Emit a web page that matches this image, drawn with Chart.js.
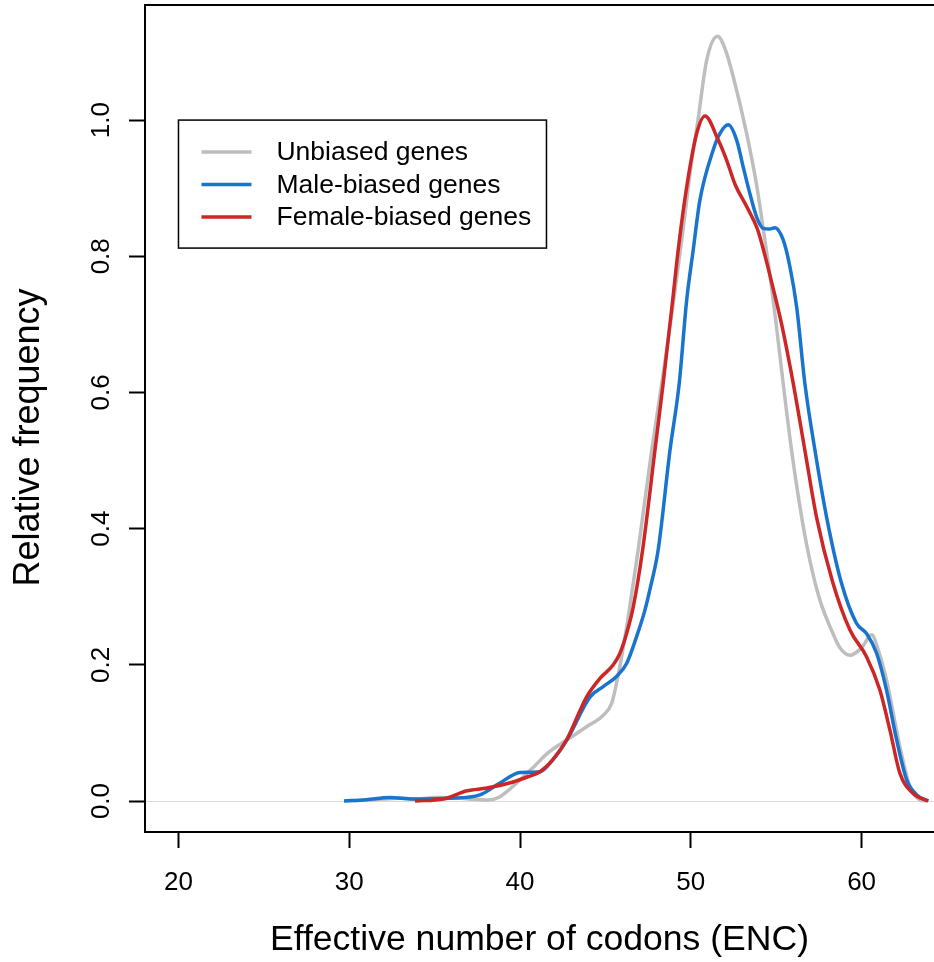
<!DOCTYPE html>
<html>
<head>
<meta charset="utf-8">
<script src="https://cdn.jsdelivr.net/npm/chart.js@4.4.1/dist/chart.umd.min.js"></script>
<style>
  body { margin: 0; background: #fff; }
</style>
</head>
<body>
<canvas id="enc-chart" width="934" height="962"></canvas>
<script>
// axis ticks
const xTicks = [20, 30, 40, 50, 60];
const yTicks = [0, 0.2, 0.4, 0.6, 0.8, 1.0];

const seriesNames = ['Unbiased genes', 'Male-biased genes', 'Female-biased genes'];

// Unbiased genes
const unbiasedX = [29.8, 31.5, 33.0, 34.0, 35.0, 35.9, 37.0, 38.1, 38.8, 40.0, 40.8, 41.6, 42.75, 43.9, 44.87, 45.36, 45.65, 45.95, 46.34, 46.92, 47.71, 48.4, 49.0, 49.5, 50.0, 50.42, 50.93, 51.57, 52.0, 52.48, 53.27, 53.85, 54.3, 54.7, 55.0, 55.41, 55.9, 56.49, 57.0, 57.56, 58.34, 58.73, 59.32, 60.0, 60.59, 61.0, 61.46, 62.24, 62.83, 63.4, 63.8];
const unbiasedY = [0, 0.002, 0.004, 0.003, 0.005, 0.005, 0.003, 0.0015, 0.006, 0.031, 0.05, 0.07, 0.09, 0.109, 0.126, 0.143, 0.173, 0.212, 0.271, 0.369, 0.515, 0.63, 0.736, 0.83, 0.93, 1.0, 1.088, 1.123, 1.105, 1.064, 0.98, 0.905, 0.83, 0.76, 0.70, 0.613, 0.515, 0.417, 0.35, 0.295, 0.245, 0.225, 0.214, 0.225, 0.244, 0.22, 0.178, 0.08, 0.021, 0.002, 0];

// Male-biased genes
const maleX = [29.69, 31.0, 32.38, 33.73, 35.9, 37.65, 38.8, 40.0, 41.17, 41.9, 42.75, 44.1, 44.87, 45.65, 46.24, 46.82, 47.31, 47.6, 48.09, 48.78, 49.32, 49.76, 50.14, 50.53, 51.31, 51.7, 52.19, 52.68, 53.07, 53.46, 53.85, 54.24, 54.6, 54.93, 55.41, 55.8, 56.2, 56.68, 57.27, 57.95, 58.8, 59.7, 60.29, 60.88, 61.46, 62.05, 62.64, 63.23, 63.9];
const maleY = [0, 0.002, 0.005, 0.003, 0.004, 0.009, 0.026, 0.042, 0.043, 0.06, 0.09, 0.153, 0.168, 0.183, 0.202, 0.241, 0.28, 0.31, 0.369, 0.515, 0.613, 0.736, 0.809, 0.882, 0.956, 0.98, 0.993, 0.971, 0.931, 0.892, 0.858, 0.841, 0.840, 0.842, 0.824, 0.785, 0.725, 0.613, 0.515, 0.417, 0.322, 0.261, 0.246, 0.217, 0.163, 0.09, 0.031, 0.009, 0];

// Female-biased genes
const femaleX = [33.85, 35.5, 36.9, 38.06, 39.6, 40.5, 41.17, 41.9, 42.73, 43.9, 44.68, 45.46, 45.85, 46.24, 46.63, 47.18, 47.9, 48.38, 48.94, 49.26, 49.76, 50.34, 50.83, 51.6, 52.1, 52.6, 53.27, 53.9, 54.3, 54.8, 55.32, 56.0, 56.68, 57.36, 58.3, 59.32, 60.29, 61.07, 61.66, 62.24, 63.02, 63.9];
const femaleY = [0, 0.003, 0.015, 0.019, 0.028, 0.036, 0.043, 0.06, 0.09, 0.153, 0.18, 0.2, 0.217, 0.246, 0.285, 0.369, 0.515, 0.613, 0.736, 0.809, 0.902, 0.98, 1.006, 0.971, 0.941, 0.905, 0.873, 0.84, 0.805, 0.755, 0.70, 0.613, 0.515, 0.417, 0.322, 0.251, 0.212, 0.163, 0.104, 0.041, 0.011, 0];

const FONT = "'Liberation Sans', Arial, Helvetica, sans-serif";

function toPoints(xs, ys) {
  return xs.map((x, i) => ({ x: x, y: ys[i] }));
}

// box top edge, rotated y labels, y title and the legend (R style)
const rStyle = {
  id: 'rStyle',
  afterDraw(chart) {
    const ctx = chart.ctx;
    const area = chart.chartArea;
    const xs = chart.scales.x;
    const ys = chart.scales.y;

    ctx.save();
    ctx.strokeStyle = '#000';
    ctx.lineWidth = 2;
    ctx.beginPath();
    ctx.moveTo(area.left - 1, area.top);
    ctx.lineTo(area.right, area.top);
    ctx.stroke();

    // y tick labels, reading upward
    ctx.fillStyle = '#000';
    ctx.font = '26px ' + FONT;
    ctx.textAlign = 'center';
    ctx.textBaseline = 'alphabetic';
    yTicks.forEach(v => {
      ctx.save();
      ctx.translate(ys.left + 108.5, ys.getPixelForValue(v));
      ctx.rotate(-Math.PI / 2);
      ctx.fillText(v.toFixed(1), 0, 0);
      ctx.restore();
    });

    // y axis title
    ctx.save();
    ctx.font = '36px ' + FONT;
    ctx.translate(ys.left + 38.5, (area.top + area.bottom) / 2 + 19);
    ctx.rotate(-Math.PI / 2);
    ctx.fillText('Relative frequency', 0, 0);
    ctx.restore();

    // legend
    const lx = xs.getPixelForValue(20);
    const ly = ys.getPixelForValue(1.0);
    ctx.fillStyle = '#fff';
    ctx.fillRect(lx, ly, 368, 128);
    ctx.lineWidth = 1.5;
    ctx.strokeStyle = '#000';
    ctx.strokeRect(lx, ly, 368, 128);
    ctx.font = '26.5px ' + FONT;
    ctx.textAlign = 'left';
    ctx.textBaseline = 'middle';
    chart.data.datasets.forEach((ds, i) => {
      const rowY = ly + 32 + i * 32.5;
      ctx.strokeStyle = ds.borderColor;
      ctx.lineWidth = 3.5;
      ctx.beginPath();
      ctx.moveTo(lx + 23, rowY);
      ctx.lineTo(lx + 73, rowY);
      ctx.stroke();
      ctx.fillStyle = '#000';
      ctx.fillText(ds.label, lx + 98, rowY + 1);
    });
    ctx.restore();
  }
};

const data = {
  datasets: [
    {
      label: seriesNames[0],
      data: toPoints(unbiasedX, unbiasedY),
      borderColor: '#bebebe',
      order: 3,
    },
    {
      label: seriesNames[1],
      data: toPoints(maleX, maleY),
      borderColor: '#1874cd',
      order: 2,
    },
    {
      label: seriesNames[2],
      data: toPoints(femaleX, femaleY),
      borderColor: '#cd2626',
      order: 1,
    },
  ],
};

const config = {
  type: 'scatter',
  data: data,
  options: {
    responsive: false,
    animation: false,
    layout: { padding: { top: 5, right: 0, bottom: 0, left: 0 } },
    elements: {
      point: { radius: 0, hoverRadius: 0 },
      line: { borderWidth: 3.5, cubicInterpolationMode: 'monotone', fill: false },
    },
    datasets: {
      scatter: { showLine: true },
    },
    plugins: {
      legend: { display: false },
      tooltip: { enabled: false },
    },
    scales: {
      x: {
        type: 'linear',
        min: 18.04,
        max: 64.24,
        afterBuildTicks: (scale) => { scale.ticks = xTicks.map(v => ({ value: v })); },
        afterFit: (scale) => { scale.height = 130; },
        ticks: {
          color: '#000',
          padding: 19,
          maxRotation: 0,
          font: { family: FONT, size: 26 },
        },
        grid: {
          drawOnChartArea: false,
          drawTicks: true,
          tickLength: 16,
          tickColor: '#000',
          tickWidth: 2,
        },
        border: { display: true, color: '#000', width: 2 },
        title: {
          display: true,
          text: 'Effective number of codons (ENC)',
          color: '#000',
          font: { family: FONT, size: 35.6 },
          padding: { top: 0, bottom: 0 },
        },
      },
      y: {
        type: 'linear',
        min: -0.0455,
        max: 1.169,
        afterBuildTicks: (scale) => { scale.ticks = yTicks.map(v => ({ value: v })); },
        afterFit: (scale) => { scale.width = 145; },
        ticks: { display: false },
        grid: {
          drawOnChartArea: true,
          drawTicks: true,
          tickLength: 16,
          tickColor: '#000',
          tickWidth: 2,
          // only the zero line shows inside the plot
          color: (ctx) => (ctx.tick && ctx.tick.value === 0 ? '#d9d9d9' : 'rgba(0,0,0,0)'),
          lineWidth: 1,
        },
        border: { display: true, color: '#000', width: 2 },
        title: { display: false },
      },
    },
  },
  plugins: [rStyle],
};

const encChart = new Chart(document.getElementById('enc-chart'), config);
</script>
</body>
</html>
